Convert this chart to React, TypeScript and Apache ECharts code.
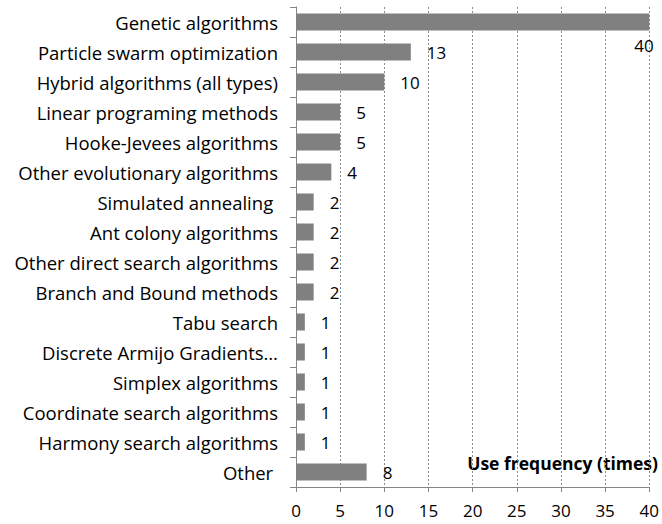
import React, { useEffect, useRef } from "react";
import * as echarts from "echarts";

const categories = [
  "Genetic algorithms",
  "Particle swarm optimization",
  "Hybrid algorithms (all types)",
  "Linear programing methods",
  "Hooke-Jevees algorithms",
  "Other evolutionary algorithms",
  "Simulated annealing\u00a0",
  "Ant colony algorithms",
  "Other direct search algorithms",
  "Branch and Bound methods",
  "Tabu search",
  "Discrete Armijo Gradients…",
  "Simplex algorithms",
  "Coordinate search algorithms",
  "Harmony search algorithms",
  "Other\u00a0",
];
const values = [40, 13, 10, 5, 5, 4, 2, 2, 2, 2, 1, 1, 1, 1, 1, 8];
const axisTitle = "Use frequency (times)";

export default function App() {
  const ref = useRef<HTMLDivElement>(null);
  useEffect(() => {
    if (!ref.current) return;
    const chart = echarts.init(ref.current, null, { renderer: "svg" });
    const font = "Open Sans";
    chart.setOption({
      animation: false,
      textStyle: { fontFamily: font },
      grid: { left: 296, right: 10, top: 7, bottom: 37, containLabel: false },
      xAxis: {
        type: "value",
        min: 0,
        max: 40,
        interval: 5,
        axisLine: { show: true, lineStyle: { color: "#868686", width: 1 } },
        axisTick: { show: true, length: 5, lineStyle: { color: "#868686" } },
        axisLabel: { color: "#000", fontSize: 17, fontFamily: font, margin: 15 },
        splitLine: { show: true, lineStyle: { color: "#8c8c8c", type: [2, 2], width: 1 } },
      },
      yAxis: {
        type: "category",
        data: categories,
        inverse: true,
        axisLine: { show: true, lineStyle: { color: "#868686", width: 1 } },
        axisTick: { show: true, length: 6, lineStyle: { color: "#868686" } },
        axisLabel: { color: "#000", fontSize: 18.5, fontFamily: font, margin: 18 },
        splitLine: { show: false },
      },
      series: [
        {
          type: "bar",
          data: values.map((v, i) =>
            i === 0
              ? { value: v, label: { position: "right", offset: [-31, 23] } }
              : v
          ),
          barWidth: 17,
          itemStyle: { color: "#808080" },
          label: {
            show: true,
            position: "right",
            distance: 16,
            color: "#000",
            fontSize: 17,
            fontFamily: font,
          },
        },
      ],
      graphic: [
        {
          type: "text",
          right: 4,
          top: 454,
          style: {
            text: axisTitle,
            fontSize: 17.5,
            fontWeight: "bold",
            fontFamily: font,
            fill: "#000",
          },
        },
      ],
    });
    return () => chart.dispose();
  }, []);
  return (
    <div
      ref={ref}
      style={{ position: "fixed", left: 0, top: 0, width: 662, height: 524, background: "#fff" }}
    />
  );
}
